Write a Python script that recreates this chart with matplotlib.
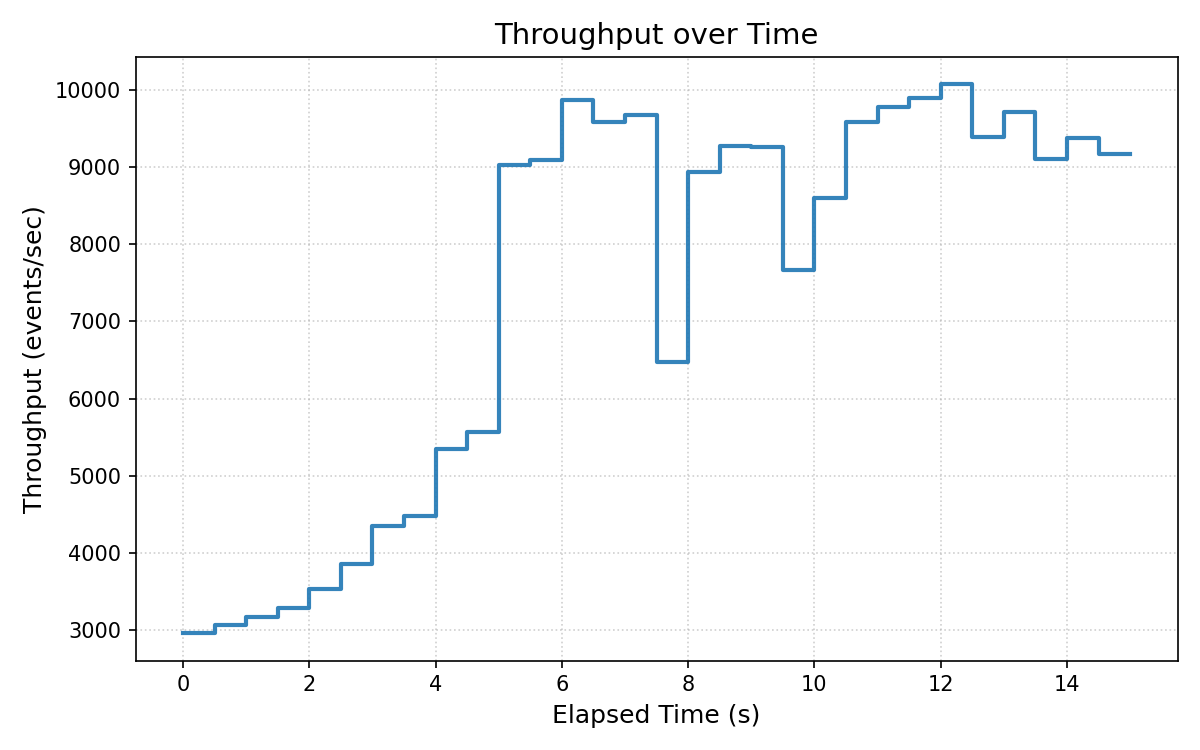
import numpy as np
import matplotlib
matplotlib.use("Agg")
import matplotlib.pyplot as plt

# time stamps (s), one value every half second
elapsed = [0.0, 0.5, 1.0, 1.5, 2.0, 2.5, 3.0, 3.5, 4.0, 4.5,
           5.0, 5.5, 6.0, 6.5, 7.0, 7.5, 8.0, 8.5, 9.0, 9.5,
           10.0, 10.5, 11.0, 11.5, 12.0, 12.5, 13.0, 13.5, 14.0, 14.5, 15.0]

# throughput (events/sec)
throughput = [2960, 3065, 3170, 3285, 3530, 3860, 4350, 4480, 5340, 5560,
              9025, 9090, 9870, 9580, 9668, 6475, 8935, 9275, 9260, 7660,
              8600, 9587, 9780, 9898, 10070, 9390, 9716, 9104, 9377, 9167, 9167]

fig, ax = plt.subplots(figsize=(8, 5), dpi=150)
ax.step(elapsed, throughput, where='post', color='tab:blue', alpha=0.9, linewidth=2)
ax.grid(True, linestyle=':', alpha=0.6)
ax.set_title('Throughput over Time', fontsize=14)
ax.set_xlabel('Elapsed Time (s)', fontsize=12)
ax.set_ylabel('Throughput (events/sec)', fontsize=12)
fig.tight_layout()
fig.savefig('out.png')
